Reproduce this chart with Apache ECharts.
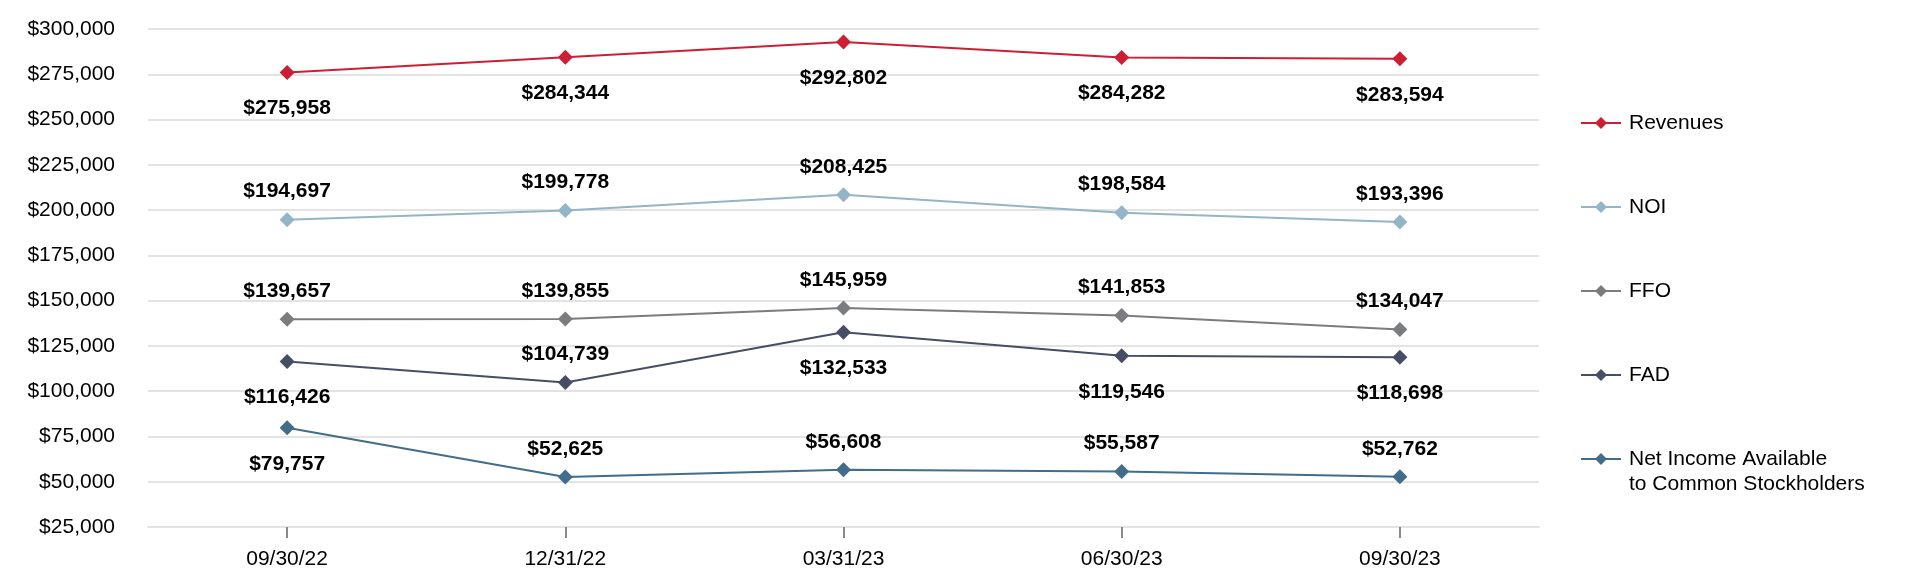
<!DOCTYPE html>
<html>
<head>
<meta charset="utf-8">
<script src="https://cdn.jsdelivr.net/npm/echarts@6/dist/echarts.min.js"></script>
<style>
html,body{margin:0;padding:0;background:#fff;}
#chart{width:1914px;height:570px;}
</style>
</head>
<body>
<div id="chart"></div>
<script>
// ---- data ----
const categories = ['09/30/22', '12/31/22', '03/31/23', '06/30/23', '09/30/23'];
const revenues = [275958, 284344, 292802, 284282, 283594];
const noi = [194697, 199778, 208425, 198584, 193396];
const ffo = [139657, 139855, 145959, 141853, 134047];
const fad = [116426, 104739, 132533, 119546, 118698];
const netIncome = [79757, 52625, 56608, 55587, 52762];
const seriesNames = ['Revenues', 'NOI', 'FFO', 'FAD', 'Net Income Available\nto Common Stockholders'];
const yMin = 25000, yMax = 300000, yStep = 25000;

// ---- styling ----
const FONT = '"Liberation Sans", Arial, sans-serif';
const colors = ['#cc1f33', '#94b4c7', '#7b7c7f', '#464e66', '#416d8a'];
const labelSides = [
  ['bottom','bottom','bottom','bottom','bottom'],
  ['top','top','top','top','top'],
  ['top','top','top','top','top'],
  ['bottom','top','bottom','bottom','bottom'],
  ['bottom','top','top','top','top']
];
const fmt = v => '$' + v.toLocaleString('en-US');
const allData = [revenues, noi, ffo, fad, netIncome];

const series = allData.map((arr, si) => ({
  name: seriesNames[si],
  type: 'line',
  symbol: 'diamond',
  symbolSize: 15,
  color: colors[si],
  lineStyle: { color: colors[si], width: 2 },
  itemStyle: { color: colors[si] },
  emphasis: { disabled: true },
  data: arr.map((v, i) => ({
    value: v,
    label: { position: labelSides[si][i], distance: labelSides[si][i] === 'top' ? 10 : 18 }
  })),
  label: {
    show: true,
    formatter: p => fmt(p.value),
    fontFamily: FONT,
    fontSize: 21,
    fontWeight: 'bold',
    color: '#000'
  }
}));

const legendText = { fontFamily: FONT, fontSize: 21, color: '#000', lineHeight: 25, padding: [0,0,0,3] };

const chart = echarts.init(document.getElementById('chart'));
chart.setOption({
  animation: false,
  backgroundColor: '#fff',
  grid: { left: 148, right: 375, top: 29, bottom: 39 },
  legend: [
    {
      orient: 'vertical',
      left: 1580,
      top: 110.5,
      padding: 0,
      itemWidth: 40,
      itemHeight: 15,
      itemGap: 59,
      selectedMode: false,
      data: seriesNames.slice(0, 4),
      textStyle: legendText
    },
    {
      orient: 'vertical',
      left: 1580,
      top: 421.5,
      padding: 0,
      itemWidth: 40,
      itemHeight: 15,
      selectedMode: false,
      data: [seriesNames[4]],
      formatter: name => ' \n' + name,
      textStyle: legendText
    }
  ],
  xAxis: {
    type: 'category',
    data: categories,
    boundaryGap: true,
    axisLine: { show: true, lineStyle: { color: '#e3e3e3', width: 2 } },
    axisTick: { show: true, alignWithLabel: true, length: 11, lineStyle: { color: '#8a8a8a', width: 2 } },
    axisLabel: { fontFamily: FONT, fontSize: 21, color: '#000', margin: 22 }
  },
  yAxis: {
    type: 'value',
    min: yMin,
    max: yMax,
    interval: yStep,
    axisLine: { show: false },
    axisTick: { show: false },
    axisLabel: { fontFamily: FONT, fontSize: 21, color: '#000', margin: 33, formatter: v => fmt(v) },
    splitLine: { show: true, lineStyle: { color: '#e3e3e3', width: 2 } }
  },
  series: series
});
</script>
</body>
</html>
